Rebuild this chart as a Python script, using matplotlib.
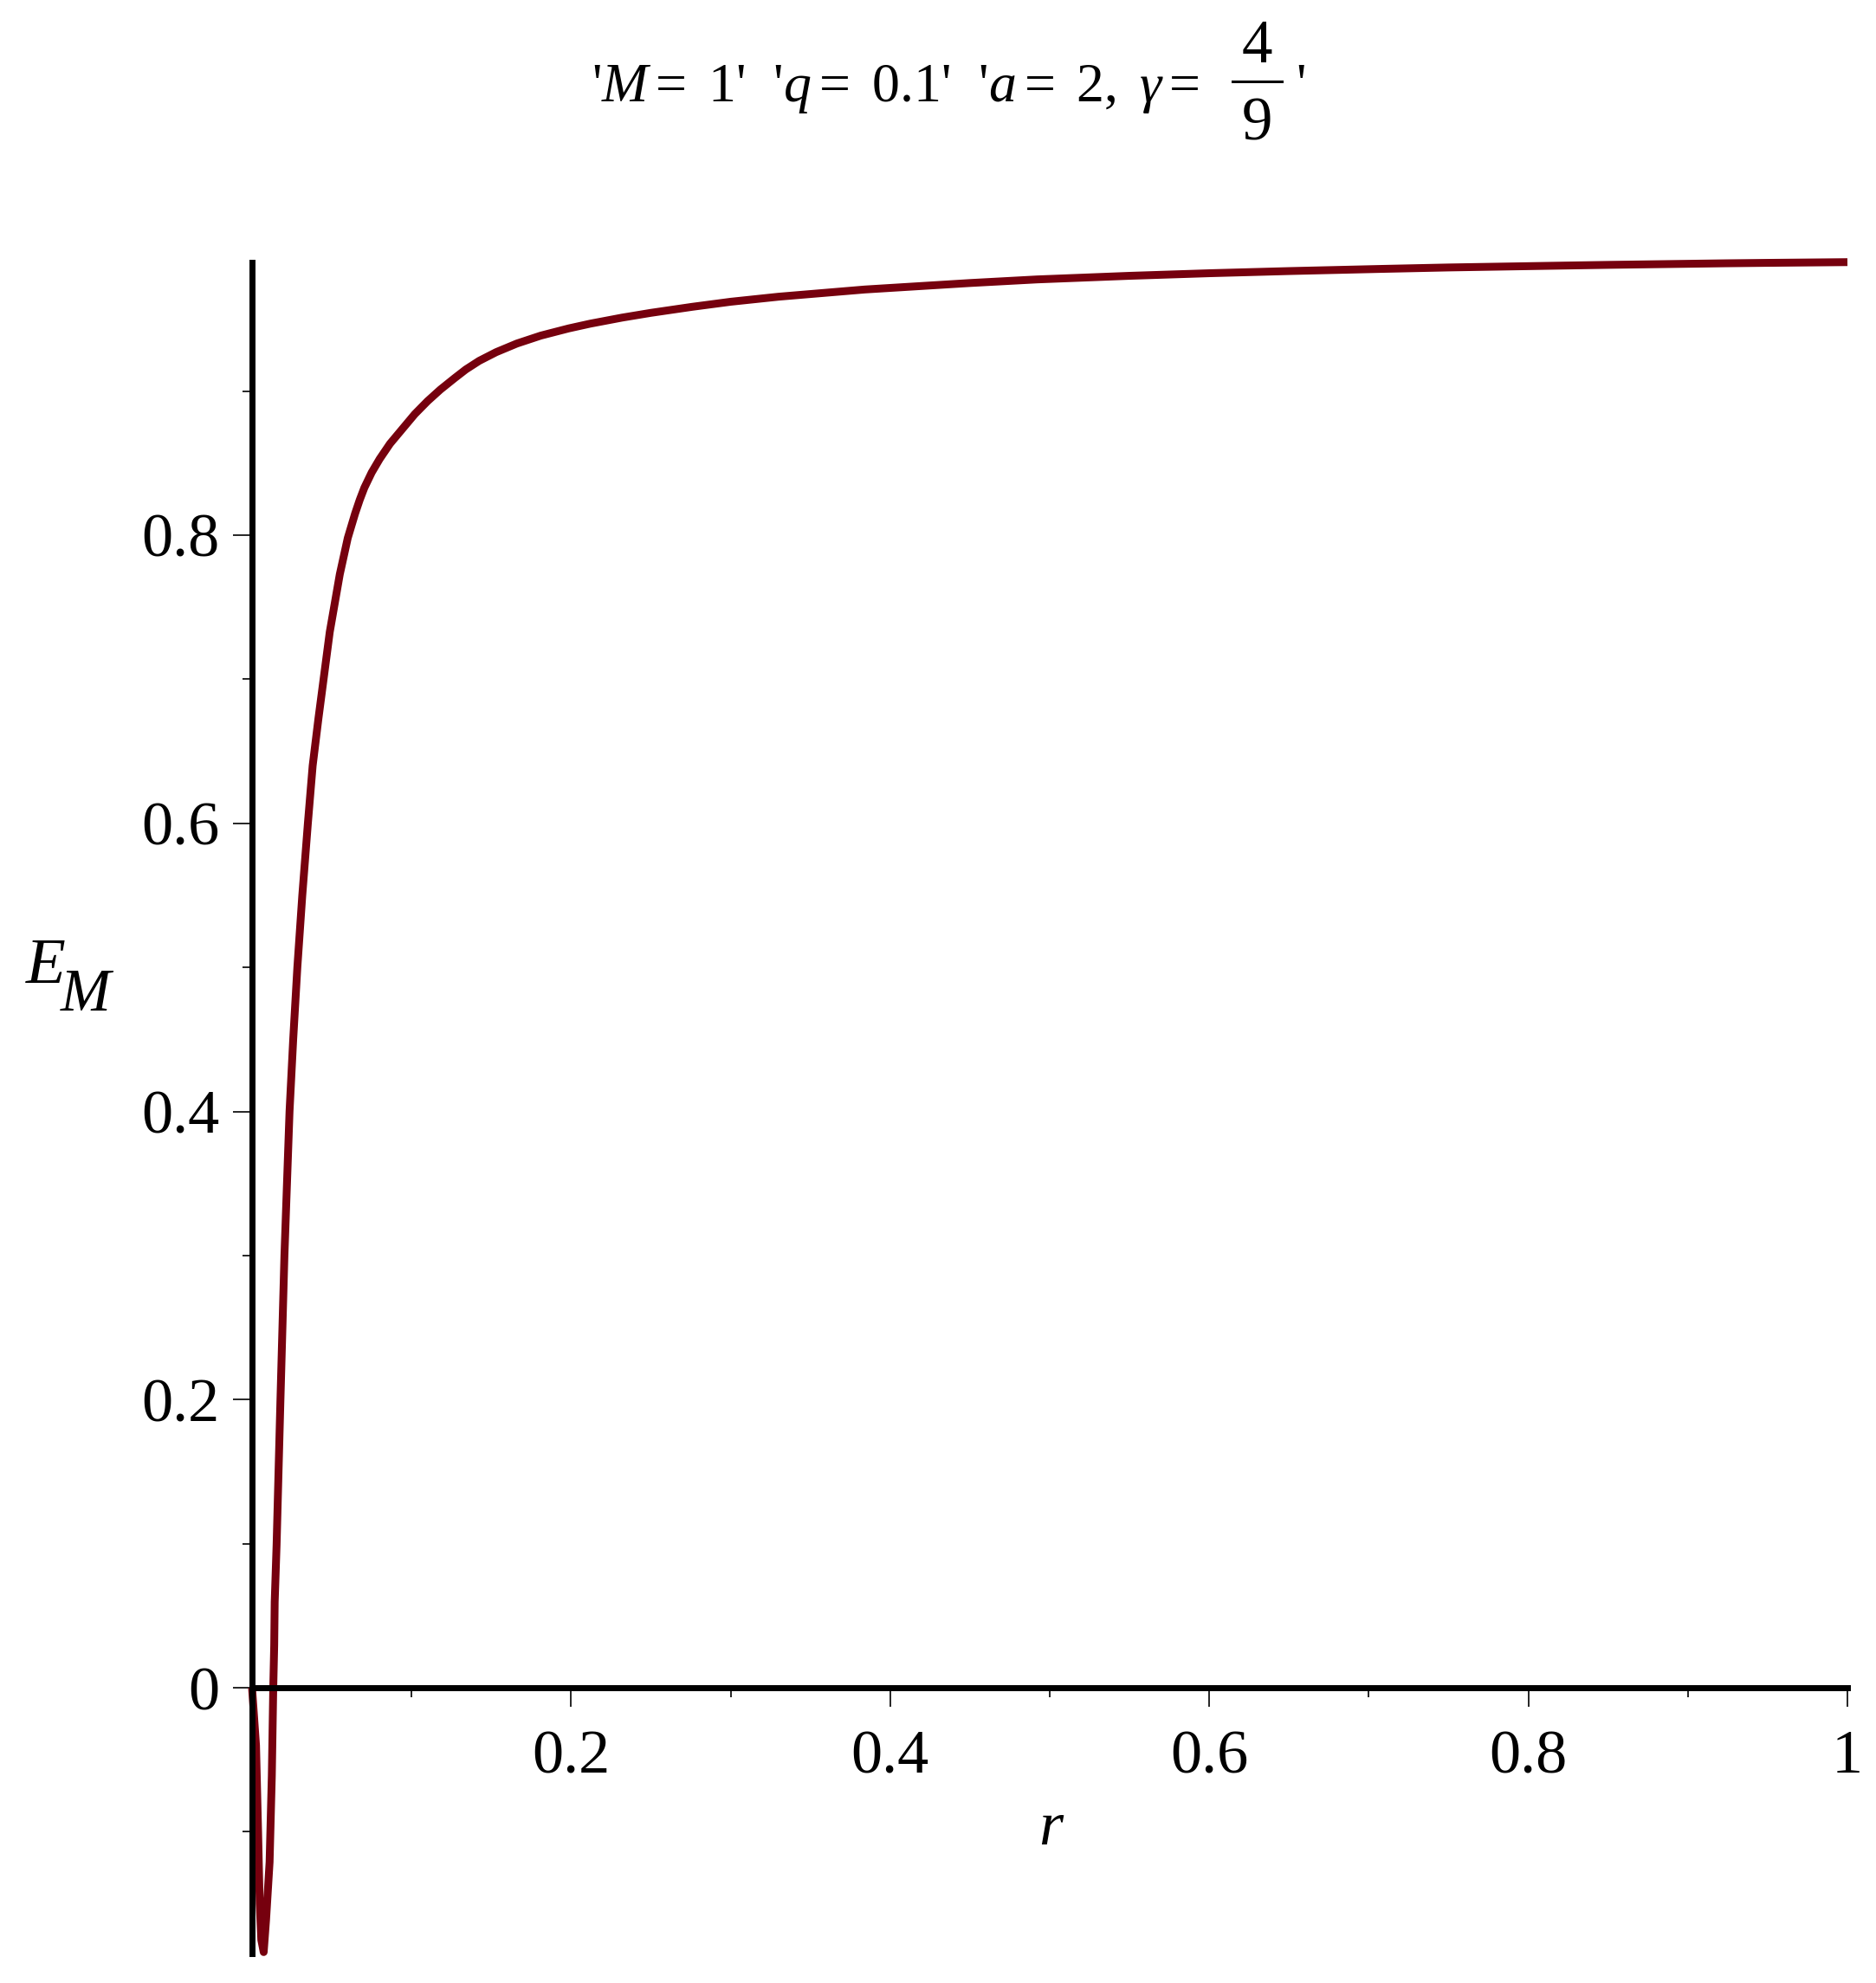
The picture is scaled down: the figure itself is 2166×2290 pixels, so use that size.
import matplotlib
matplotlib.use("Agg")
import matplotlib.pyplot as plt
from matplotlib.lines import Line2D
from matplotlib.ticker import FixedLocator, FixedFormatter

plt.rcParams["font.family"] = ["Liberation Serif", "DejaVu Serif"]
plt.rcParams["mathtext.fontset"] = "custom"
plt.rcParams["mathtext.rm"] = "Liberation Serif"
plt.rcParams["mathtext.it"] = "Liberation Serif:italic"
plt.rcParams["mathtext.bf"] = "Liberation Serif:bold"

# values
r = [0.0, 0.0025, 0.0038, 0.0048, 0.0058, 0.0073, 0.0088, 0.0110,
     0.0124, 0.0133, 0.0139, 0.0142, 0.0154, 0.0178, 0.0203, 0.0235,
     0.0258, 0.0284, 0.0315, 0.0350, 0.0380, 0.0416, 0.0487, 0.0550,
     0.0600, 0.0646, 0.0675, 0.0704, 0.0750, 0.0800, 0.0865, 0.0936,
     0.102, 0.110, 0.118, 0.127, 0.134, 0.1424, 0.153, 0.166,
     0.181, 0.1985, 0.212, 0.232, 0.250, 0.276, 0.300, 0.330,
     0.384, 0.450, 0.492, 0.550, 0.600, 0.650, 0.708, 0.750,
     0.816, 0.850, 0.924, 0.950, 1.0]
E_M = [0.0, -0.040, -0.100, -0.150, -0.175, -0.1835, -0.161, -0.121,
       -0.061, 0.0, 0.0295, 0.0595, 0.0996, 0.1997, 0.300, 0.400,
       0.450, 0.500, 0.550, 0.600, 0.640, 0.6726, 0.7327, 0.7728,
       0.798, 0.815, 0.8245, 0.8329, 0.8435, 0.8529, 0.8635, 0.8729,
       0.884, 0.893, 0.901, 0.909, 0.915, 0.921, 0.927, 0.933,
       0.9385, 0.9435, 0.9468, 0.9510, 0.9543, 0.9585, 0.9620, 0.9655,
       0.9705, 0.9750, 0.9775, 0.9800, 0.9818, 0.9833, 0.9848, 0.9858,
       0.9870, 0.9876, 0.9887, 0.9890, 0.9895]

x_major = [0.2, 0.4, 0.6, 0.8, 1.0]
x_major_labels = ["0.2", "0.4", "0.6", "0.8", "1"]
x_minor = [0.1, 0.3, 0.5, 0.7, 0.9]
y_major = [0.0, 0.2, 0.4, 0.6, 0.8]
y_major_labels = ["0", "0.2", "0.4", "0.6", "0.8"]
y_minor = [-0.1, 0.1, 0.3, 0.5, 0.7, 0.9]

title_main = "'$M =\\ 1$'  '$q =\\ 0.1$'  '$a =\\ 2,\\ \\gamma =$"
frac_num, frac_den = "4", "9"

W, H = 2166, 2290
fig = plt.figure(figsize=(W / 100, H / 100), dpi=100)
ax = fig.add_axes([291 / W, 1 - 2256 / H, 1842 / W, 1953 / H])

ax.plot(r, E_M, color="#76000E", linewidth=6.5, solid_capstyle="butt",
        solid_joinstyle="round", clip_on=False, zorder=2)

ax.set_xlim(0, 1)
ax.set_ylim(-0.18452, 0.98933)

# axes cross at the origin, Maple style
for side in ("top", "right"):
    ax.spines[side].set_visible(False)
ax.spines["left"].set_position(("data", 0))
ax.spines["bottom"].set_position(("data", 0))
for side in ("left", "bottom"):
    ax.spines[side].set_linewidth(5.0)
    ax.spines[side].set_zorder(5)

ax.xaxis.set_major_locator(FixedLocator(x_major))
ax.xaxis.set_major_formatter(FixedFormatter(x_major_labels))
ax.xaxis.set_minor_locator(FixedLocator(x_minor))
ax.yaxis.set_major_locator(FixedLocator(y_major))
ax.yaxis.set_major_formatter(FixedFormatter(y_major_labels))
ax.yaxis.set_minor_locator(FixedLocator(y_minor))

ax.tick_params(which="major", length=15.8, width=1.2, direction="out",
               labelsize=52)
ax.tick_params(which="minor", length=7.9, width=1.2, direction="out")
ax.tick_params(axis="x", which="major", pad=19)
ax.tick_params(axis="y", which="major", pad=11)

# axis labels
fig.text(1213 / W, 1 - 2130 / H, "r", fontsize=52, style="italic",
         ha="center", va="baseline")
fig.text(30 / W, 1 - 1135 / H, "E", fontsize=54, style="italic",
         ha="left", va="baseline")
fig.text(70 / W, 1 - 1167 / H, "M", fontsize=50, style="italic",
         ha="left", va="baseline")

# title, with the fraction set larger as Maple does
fig.text(683 / W, 1 - 117 / H, title_main, fontsize=46,
         ha="left", va="baseline")
fig.text(1451 / W, 1 - 72 / H, frac_num, fontsize=51,
         ha="center", va="baseline")
fig.text(1451 / W, 1 - 162 / H, frac_den, fontsize=51,
         ha="center", va="baseline")
fig.add_artist(Line2D([1423 / W, 1480 / W], [1 - 94 / H, 1 - 94 / H],
                      color="black", linewidth=2.2))
fig.text(1502 / W, 1 - 117 / H, "'", fontsize=46,
         ha="center", va="baseline")

fig.savefig("out.png", dpi=100)
